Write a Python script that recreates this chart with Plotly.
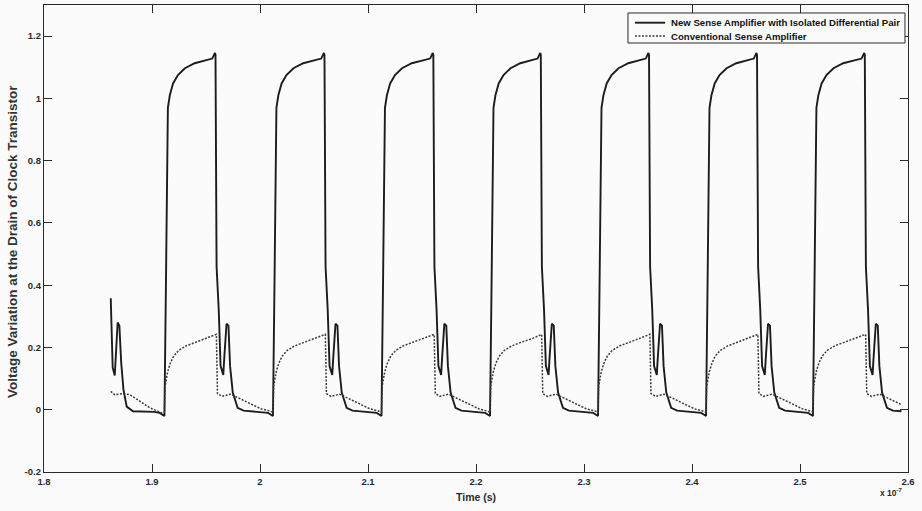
import plotly.graph_objects as go

# Transient simulation of the clock-transistor drain node (time in ns, voltage in V)
new_amp_time_ns = [
    186.18, 186.36, 186.55, 186.63, 186.82, 186.98, 187.15, 187.36, 187.66, 188.24, 190.20, 190.70, 190.97,
    191.15, 191.29, 191.47, 191.65, 191.95, 192.40, 193.05, 193.95, 194.90, 195.58, 195.83, 195.88, 195.98,
    196.18, 196.35, 196.60, 196.68, 196.90, 197.08, 197.23, 197.48, 197.93, 198.48, 199.38, 200.30, 200.75, 201.02,
    201.20, 201.34, 201.52, 201.70, 202.00, 202.45, 203.10, 204.00, 204.95, 205.67, 205.92, 205.97, 206.07,
    206.27, 206.44, 206.69, 206.77, 206.99, 207.17, 207.32, 207.57, 208.02, 208.57, 209.47, 210.35, 210.80, 211.07,
    211.25, 211.39, 211.57, 211.75, 212.05, 212.50, 213.15, 214.05, 215.00, 215.75, 216.00, 216.05, 216.15,
    216.35, 216.52, 216.77, 216.85, 217.07, 217.25, 217.40, 217.65, 218.10, 218.65, 219.55, 220.40, 220.85, 221.12,
    221.30, 221.44, 221.62, 221.80, 222.10, 222.55, 223.20, 224.10, 225.05, 225.70, 225.95, 226.00, 226.10,
    226.30, 226.47, 226.72, 226.80, 227.02, 227.20, 227.35, 227.60, 228.05, 228.60, 229.50, 230.40, 230.85, 231.12,
    231.30, 231.44, 231.62, 231.80, 232.10, 232.55, 233.20, 234.10, 235.05, 235.72, 235.97, 236.02, 236.12,
    236.32, 236.49, 236.74, 236.82, 237.04, 237.22, 237.37, 237.62, 238.07, 238.62, 239.52, 240.40, 240.85, 241.12,
    241.30, 241.44, 241.62, 241.80, 242.10, 242.55, 243.20, 244.10, 245.05, 245.72, 245.97, 246.02, 246.12,
    246.32, 246.49, 246.74, 246.82, 247.04, 247.22, 247.37, 247.62, 248.07, 248.62, 249.52, 250.30, 250.75, 251.02,
    251.20, 251.34, 251.52, 251.70, 252.00, 252.45, 253.10, 254.00, 254.95, 255.70, 255.95, 256.00, 256.10,
    256.30, 256.47, 256.72, 256.80, 257.02, 257.20, 257.35, 257.60, 258.05, 258.60, 259.40,
]
new_amp_volt = [
    0.358, 0.135, 0.110, 0.160, 0.280, 0.270, 0.150, 0.064, 0.010, -0.005, -0.007, -0.010, -0.016,
    -0.020, 0.400, 0.970, 1.010, 1.048, 1.075, 1.097, 1.113, 1.121, 1.128, 1.146, 1.140, 0.460,
    0.320, 0.140, 0.112, 0.160, 0.276, 0.270, 0.140, 0.055, 0.006, -0.003, -0.005, -0.007, -0.010, -0.016,
    -0.020, 0.400, 0.970, 1.010, 1.048, 1.075, 1.097, 1.113, 1.121, 1.128, 1.146, 1.140, 0.460,
    0.320, 0.140, 0.112, 0.160, 0.276, 0.270, 0.140, 0.055, 0.006, -0.003, -0.005, -0.007, -0.010, -0.016,
    -0.020, 0.400, 0.970, 1.010, 1.048, 1.075, 1.097, 1.113, 1.121, 1.128, 1.146, 1.140, 0.460,
    0.320, 0.140, 0.112, 0.160, 0.276, 0.270, 0.140, 0.055, 0.006, -0.003, -0.005, -0.007, -0.010, -0.016,
    -0.020, 0.400, 0.970, 1.010, 1.048, 1.075, 1.097, 1.113, 1.121, 1.128, 1.146, 1.140, 0.460,
    0.320, 0.140, 0.112, 0.160, 0.276, 0.270, 0.140, 0.055, 0.006, -0.003, -0.005, -0.007, -0.010, -0.016,
    -0.020, 0.400, 0.970, 1.010, 1.048, 1.075, 1.097, 1.113, 1.121, 1.128, 1.146, 1.140, 0.460,
    0.320, 0.140, 0.112, 0.160, 0.276, 0.270, 0.140, 0.055, 0.006, -0.003, -0.005, -0.007, -0.010, -0.016,
    -0.020, 0.400, 0.970, 1.010, 1.048, 1.075, 1.097, 1.113, 1.121, 1.128, 1.146, 1.140, 0.460,
    0.320, 0.140, 0.112, 0.160, 0.276, 0.270, 0.140, 0.055, 0.006, -0.003, -0.005, -0.007, -0.010, -0.016,
    -0.020, 0.400, 0.970, 1.010, 1.048, 1.075, 1.097, 1.113, 1.121, 1.128, 1.146, 1.140, 0.460,
    0.320, 0.140, 0.112, 0.160, 0.276, 0.270, 0.140, 0.055, 0.006, -0.003, -0.005,
]

conv_amp_time_ns = [
    186.18, 186.57, 187.34, 187.96, 188.89, 189.81, 190.90,
    191.15, 191.21, 191.45, 191.70, 192.00, 192.45, 193.15, 194.15, 195.15, 195.96, 196.06,
    196.48, 197.28, 197.88, 198.48, 199.18, 200.08, 200.90,
    201.20, 201.26, 201.50, 201.75, 202.05, 202.50, 203.20, 204.20, 205.20, 206.05, 206.15,
    206.57, 207.37, 207.97, 208.57, 209.27, 210.17, 210.95,
    211.25, 211.31, 211.55, 211.80, 212.10, 212.55, 213.25, 214.25, 215.25, 216.13, 216.23,
    216.65, 217.45, 218.05, 218.65, 219.35, 220.25, 221.00,
    221.30, 221.36, 221.60, 221.85, 222.15, 222.60, 223.30, 224.30, 225.30, 226.08, 226.18,
    226.60, 227.40, 228.00, 228.60, 229.30, 230.20, 231.00,
    231.30, 231.36, 231.60, 231.85, 232.15, 232.60, 233.30, 234.30, 235.30, 236.10, 236.20,
    236.62, 237.42, 238.02, 238.62, 239.32, 240.22, 241.00,
    241.30, 241.36, 241.60, 241.85, 242.15, 242.60, 243.30, 244.30, 245.30, 246.10, 246.20,
    246.62, 247.42, 248.02, 248.62, 249.32, 250.22, 250.90,
    251.20, 251.26, 251.50, 251.75, 252.05, 252.50, 253.20, 254.20, 255.20, 256.08, 256.18,
    256.60, 257.40, 258.00, 258.60, 259.30, 259.41,
]
conv_amp_volt = [
    0.059, 0.048, 0.052, 0.048, 0.027, 0.006, -0.010,
    -0.008, 0.075, 0.122, 0.150, 0.172, 0.190, 0.205, 0.218, 0.230, 0.242, 0.052,
    0.043, 0.050, 0.040, 0.030, 0.016, 0.003, -0.004,
    -0.008, 0.075, 0.122, 0.150, 0.172, 0.190, 0.205, 0.218, 0.230, 0.242, 0.052,
    0.043, 0.050, 0.040, 0.030, 0.016, 0.003, -0.004,
    -0.008, 0.075, 0.122, 0.150, 0.172, 0.190, 0.205, 0.218, 0.230, 0.242, 0.052,
    0.043, 0.050, 0.040, 0.030, 0.016, 0.003, -0.004,
    -0.008, 0.075, 0.122, 0.150, 0.172, 0.190, 0.205, 0.218, 0.230, 0.242, 0.052,
    0.043, 0.050, 0.040, 0.030, 0.016, 0.003, -0.004,
    -0.008, 0.075, 0.122, 0.150, 0.172, 0.190, 0.205, 0.218, 0.230, 0.242, 0.052,
    0.043, 0.050, 0.040, 0.030, 0.016, 0.003, -0.004,
    -0.008, 0.075, 0.122, 0.150, 0.172, 0.190, 0.205, 0.218, 0.230, 0.242, 0.052,
    0.043, 0.050, 0.040, 0.030, 0.016, 0.003, -0.004,
    -0.008, 0.075, 0.122, 0.150, 0.172, 0.190, 0.205, 0.218, 0.230, 0.242, 0.052,
    0.043, 0.050, 0.040, 0.030, 0.016, 0.016,
]

x_tick_vals = [1.8, 1.9, 2.0, 2.1, 2.2, 2.3, 2.4, 2.5, 2.6]
x_tick_text = ["1.8", "1.9", "2", "2.1", "2.2", "2.3", "2.4", "2.5", "2.6"]
y_tick_vals = [-0.2, 0.0, 0.2, 0.4, 0.6, 0.8, 1.0, 1.2]
y_tick_text = ["-0.2", "0", "0.2", "0.4", "0.6", "0.8", "1", "1.2"]

series_names = [
    "New Sense Amplifier with Isolated Differential Pair",
    "Conventional Sense Amplifier",
]

# the x axis is shown in units of 1e-7 s
NS_PER_UNIT = 100.0

FONT = "Liberation Sans, Arial, Helvetica, sans-serif"
INK = "#2a2a2a"
BG = "#fbfbfb"
SOLID = dict(color="#1c1c1c", width=1.9)
DOTTED = dict(color="#3a3a3a", width=1.5, dash="2px,1.5px")

fig = go.Figure()
fig.add_trace(go.Scatter(
    x=[t / NS_PER_UNIT for t in new_amp_time_ns], y=new_amp_volt,
    mode="lines", name=series_names[0], line=SOLID, showlegend=False,
))
fig.add_trace(go.Scatter(
    x=[t / NS_PER_UNIT for t in conv_amp_time_ns], y=conv_amp_volt,
    mode="lines", name=series_names[1], line=DOTTED, showlegend=False,
))

axis_common = dict(
    showline=True, linecolor=INK, linewidth=1.3, mirror="ticks",
    ticks="inside", ticklen=8, tickwidth=1.2, tickcolor=INK,
    showgrid=False, zeroline=False,
    tickfont=dict(family=FONT, size=9.5, color=INK, weight="bold"),
)

fig.update_layout(
    width=922, height=511,
    margin=dict(l=44, r=14, t=5, b=39),
    paper_bgcolor=BG, plot_bgcolor=BG,
    font=dict(family=FONT, color=INK),
    xaxis=dict(range=[1.8, 2.6], tickvals=x_tick_vals, ticktext=x_tick_text, **axis_common),
    yaxis=dict(range=[-0.2, 1.3], tickvals=y_tick_vals, ticktext=y_tick_text, **axis_common),
    showlegend=False,
)

# compact boxed legend in the upper-right corner of the axes
LEG_X0, LEG_X1, LEG_Y0, LEG_Y1 = 0.6759, 0.9965, 0.9186, 0.9829
ROW_Y = [0.9621, 0.9336]
SAMPLE_X0, SAMPLE_X1, TEXT_X = 0.684, 0.7188, 0.7234
fig.add_shape(type="rect", xref="paper", yref="paper",
              x0=LEG_X0, x1=LEG_X1, y0=LEG_Y0, y1=LEG_Y1,
              line=dict(color=INK, width=1), fillcolor=BG, layer="above")
for row_y, name, style in zip(ROW_Y, series_names, [SOLID, DOTTED]):
    fig.add_shape(type="line", xref="paper", yref="paper",
                  x0=SAMPLE_X0, x1=SAMPLE_X1, y0=row_y, y1=row_y,
                  line=style, layer="above")
    fig.add_annotation(text=name, xref="paper", yref="paper", x=TEXT_X, y=row_y,
                       xanchor="left", yanchor="middle", showarrow=False,
                       font=dict(family=FONT, size=9.6, color="#111", weight="bold"))

fig.add_annotation(
    text="Time (s)", xref="paper", yref="paper", x=0.5, y=-0.054,
    xanchor="center", yanchor="middle", showarrow=False,
    font=dict(family=FONT, size=10.5, color=INK, weight="bold"),
)
fig.add_annotation(
    text="Voltage Variation at the Drain of Clock Transistor", xref="paper", yref="paper",
    x=-0.037, y=0.4925, xanchor="center", yanchor="middle", textangle=-90, showarrow=False,
    font=dict(family=FONT, size=13.5, color="#333", weight="bold"),
)
fig.add_annotation(
    text="x 10<sup>-7</sup>", xref="paper", yref="paper", x=0.997, y=-0.043,
    xanchor="right", yanchor="middle", showarrow=False,
    font=dict(family=FONT, size=8.5, color=INK, weight="bold"),
)

fig.write_html("out.html")
